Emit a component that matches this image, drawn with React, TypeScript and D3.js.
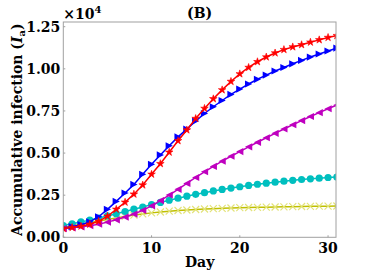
import React, { useEffect, useRef } from 'react'
import * as d3 from 'd3'

// days 0..31, accumulative infection values
const days = d3.range(0, 32)

const redStar = [520, 580, 660, 770, 950, 1250, 1660, 2080, 2560, 3100, 3740, 4370, 5050, 5730, 6370, 7050,
    7650, 8220, 8750, 9250, 9700, 10080, 10420, 10700, 10940, 11140, 11300, 11430, 11580, 11720, 11860, 11970]
const blueRight = [550, 630, 750, 920, 1220, 1660, 2130, 2630, 3140, 3740, 4330, 4890, 5430, 5960, 6420, 6900,
    7350, 7750, 8120, 8480, 8800, 9100, 9380, 9630, 9870, 10080, 10300, 10500, 10700, 10880, 11060, 11230]
const magentaLeft = [520, 560, 620, 690, 780, 900, 1040, 1200, 1380, 1600, 1870, 2180, 2510, 2850, 3200, 3550,
    3890, 4210, 4520, 4810, 5090, 5370, 5640, 5910, 6170, 6430, 6680, 6930, 7170, 7400, 7630, 7850]
const cyanCircle = [700, 800, 910, 1020, 1140, 1270, 1400, 1530, 1670, 1800, 1940, 2070, 2200, 2320, 2440, 2550,
    2650, 2750, 2840, 2920, 3000, 3080, 3150, 3210, 3270, 3330, 3380, 3430, 3470, 3510, 3550, 3580]
const yellowX = [580, 670, 770, 870, 970, 1060, 1150, 1240, 1320, 1390, 1450, 1500, 1550, 1590, 1620, 1650,
    1680, 1700, 1720, 1740, 1760, 1770, 1780, 1790, 1800, 1810, 1820, 1830, 1840, 1850, 1850, 1860]

const yTicks = [0, 2500, 5000, 7500, 10000, 12500]
const xTicks = [0, 10, 20, 30]

const FONT = 'DejaVu Serif'

export default function App() {
    const ref = useRef<SVGSVGElement>(null)

    useEffect(() => {
        const width = 374, height = 273
        const left = 63.3, right = 336, top = 22, bottom = 237.3

        const svg = d3.select(ref.current)
        svg.selectAll('*').remove()

        const xScale = d3.scaleLinear().domain([0, 30.9]).range([left, right])
        const yScale = d3.scaleLinear().domain([0, 12780]).range([bottom, top])

        svg.append('rect').attr('width', width).attr('height', height).attr('fill', '#fff')

        svg.append('clipPath').attr('id', 'plotclip')
            .append('rect')
            .attr('x', left).attr('y', top)
            .attr('width', right - left).attr('height', bottom - top)

        const plot = svg.append('g').attr('clip-path', 'url(#plotclip)')

        const line = d3.line<number>()
            .x((d, i) => xScale(days[i]))
            .y(d => yScale(d))

        // marker paths
        const tri = (dir: number) => (s: number) =>
            dir > 0 ? `M${s},0L${-s},${-s}L${-s},${s}Z` : `M${-s},0L${s},${-s}L${s},${s}Z`
        const series = [
            { values: yellowX, color: '#bfbf00', marker: 'x' },
            { values: cyanCircle, color: '#00bfbf', marker: 'o' },
            { values: magentaLeft, color: '#bf00bf', marker: '<' },
            { values: blueRight, color: '#0000ff', marker: '>' },
            { values: redStar, color: '#ff0000', marker: '*' },
        ]

        series.forEach(s => {
            plot.append('path')
                .datum(s.values)
                .attr('fill', 'none')
                .attr('stroke', s.color)
                .attr('stroke-width', 1.5)
                .attr('d', line)

            const g = plot.append('g')
            s.values.forEach((v, i) => {
                const tr = 'translate(' + xScale(days[i]) + ',' + yScale(v) + ')'
                if (s.marker === 'o') {
                    g.append('circle').attr('transform', tr).attr('r', 3.6).attr('fill', s.color)
                } else if (s.marker === 'x') {
                    g.append('path').attr('transform', tr)
                        .attr('d', 'M-3.5,-3.5L3.5,3.5M-3.5,3.5L3.5,-3.5')
                        .attr('stroke', '#e3e37a').attr('stroke-width', 1.2).attr('fill', 'none')
                } else if (s.marker === '*') {
                    g.append('path').attr('transform', tr)
                        .attr('d', d3.symbol().type(d3.symbolStar).size(18)())
                        .attr('fill', s.color).attr('stroke', s.color).attr('stroke-width', 0.6)
                } else {
                    g.append('path').attr('transform', tr)
                        .attr('d', tri(s.marker === '>' ? 1 : -1)(3.6))
                        .attr('fill', s.color)
                }
            })
        })

        // frame
        svg.append('rect')
            .attr('x', left).attr('y', top)
            .attr('width', right - left).attr('height', bottom - top)
            .attr('fill', 'none').attr('stroke', '#a0a0a0').attr('stroke-width', 1)

        // ticks (small, inward) and labels
        yTicks.forEach(t => {
            svg.append('line')
                .attr('x1', left).attr('x2', left + 2)
                .attr('y1', yScale(t)).attr('y2', yScale(t))
                .attr('stroke', '#a0a0a0')
            svg.append('text')
                .attr('x', left - 3).attr('y', yScale(t) + 5)
                .attr('text-anchor', 'end')
                .style('font-family', FONT).style('font-weight', 'bold').style('font-size', '14px')
                .text((t / 10000).toFixed(2))
        })
        xTicks.forEach(t => {
            svg.append('line')
                .attr('x1', xScale(t)).attr('x2', xScale(t))
                .attr('y1', bottom).attr('y2', bottom - 2)
                .attr('stroke', '#a0a0a0')
            svg.append('text')
                .attr('x', xScale(t)).attr('y', bottom + 16)
                .attr('text-anchor', 'middle')
                .style('font-family', FONT).style('font-weight', 'bold').style('font-size', '14px')
                .text(t)
        })

        // offset text
        const off = svg.append('text')
            .attr('x', left).attr('y', 19)
            .style('font-family', FONT).style('font-weight', 'bold').style('font-size', '14px')
        off.append('tspan').text('\u00d710')
        off.append('tspan').attr('dy', -6).style('font-size', '10px').text('4')

        // title
        svg.append('text')
            .attr('x', (left + right) / 2).attr('y', 18)
            .attr('text-anchor', 'middle')
            .style('font-family', FONT).style('font-weight', 'bold').style('font-size', '14px')
            .text('(B)')

        // x label
        svg.append('text')
            .attr('x', (left + right) / 2).attr('y', 267)
            .attr('text-anchor', 'middle')
            .style('font-family', FONT).style('font-weight', 'bold').style('font-size', '14px')
            .text('Day')

        // y label
        const yl = svg.append('text')
            .attr('transform', 'translate(22,' + (top + bottom) / 2 + ') rotate(-90)')
            .attr('text-anchor', 'middle')
            .style('font-family', FONT).style('font-weight', 'bold').style('font-size', '14px')
        yl.append('tspan').text('Accumulative infection (')
        yl.append('tspan').style('font-style', 'italic').text('I')
        yl.append('tspan').attr('dy', 3).style('font-size', '10px').text('a')
        yl.append('tspan').attr('dy', -3).text(')')
    }, [])

    return (
        <svg ref={ref} width={374} height={273}
            style={{ position: 'absolute', left: 0, top: 0, display: 'block' }} />
    )
}
